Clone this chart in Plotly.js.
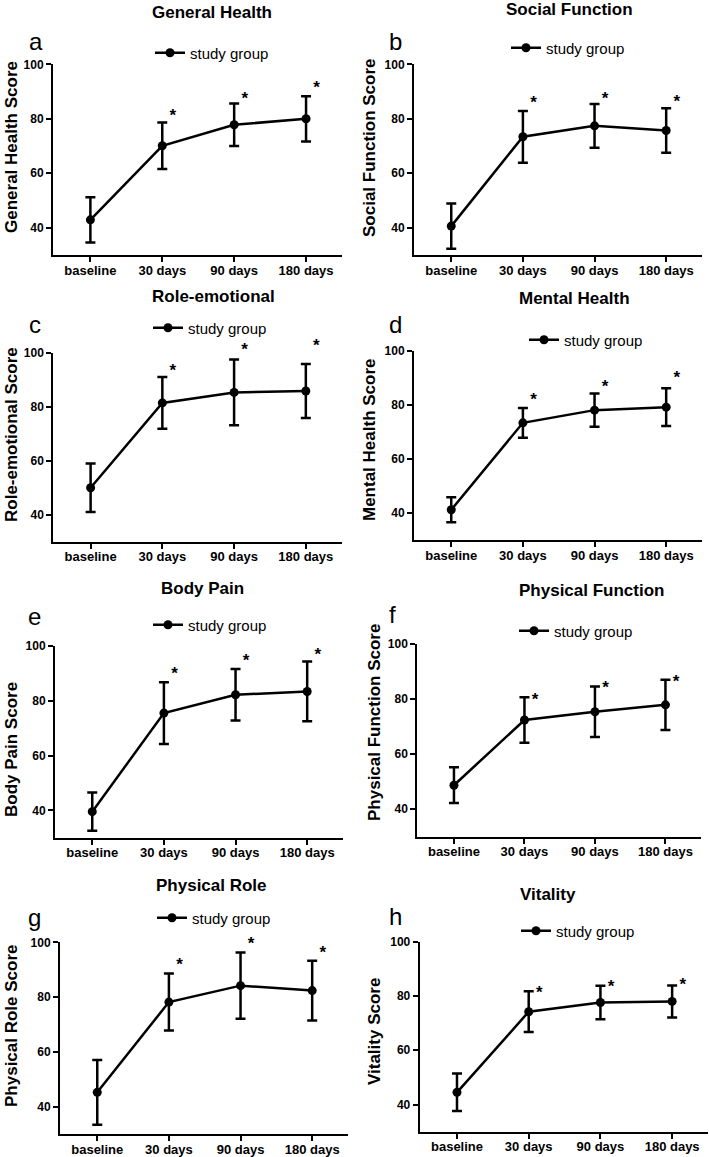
<!DOCTYPE html>
<html><head><meta charset="utf-8">
<script src="https://cdn.plot.ly/plotly-3.0.1.min.js"></script>
<style>html,body{margin:0;padding:0;background:#fff}</style>
</head><body>
<div id="chart" style="width:709px;height:1157px"></div>
<script>
// ---------------- data ----------------
const categories = ['baseline', '30 days', '90 days', '180 days'];
const seriesName = 'study group';
const panelLetters = ['a', 'b', 'c', 'd', 'e', 'f', 'g', 'h'];
const panelTitles = ['General Health', 'Social Function', 'Role-emotional', 'Mental Health',
                     'Body Pain', 'Physical Function', 'Physical Role', 'Vitality'];
const yAxisTitles = ['General Health Score', 'Social Function Score', 'Role-emotional Score',
                     'Mental Health Score', 'Body Pain Score', 'Physical Function Score',
                     'Physical Role Score', 'Vitality Score'];
const yTickValues = [40, 60, 80, 100];
const starText = '*';

const generalHealthMean    = [42.9, 70.1, 77.8, 80.0];
const generalHealthSD      = [8.3, 8.5, 7.8, 8.3];
const socialFunctionMean   = [40.6, 73.4, 77.4, 75.7];
const socialFunctionSD     = [8.3, 9.5, 8.0, 8.2];
const roleEmotionalMean    = [50.0, 81.4, 85.3, 85.8];
const roleEmotionalSD      = [9.0, 9.6, 12.2, 10.0];
const mentalHealthMean     = [41.2, 73.4, 78.1, 79.2];
const mentalHealthSD       = [4.6, 5.5, 6.2, 7.0];
const bodyPainMean         = [39.5, 75.5, 82.2, 83.4];
const bodyPainSD           = [7.0, 11.3, 9.4, 10.9];
const physicalFunctionMean = [48.7, 72.4, 75.4, 77.9];
const physicalFunctionSD   = [6.5, 8.3, 9.2, 9.1];
const physicalRoleMean     = [45.3, 78.2, 84.2, 82.4];
const physicalRoleSD       = [11.8, 10.4, 12.1, 10.9];
const vitalityMean         = [44.5, 74.2, 77.6, 78.0];
const vitalitySD           = [6.9, 7.5, 6.2, 5.9];

// anchor height (score units) of the significance asterisks at 30, 90, 180 days
const generalHealthStar    = [80.8, 87.1, 91.1];
const socialFunctionStar   = [85.6, 86.9, 85.9];
const roleEmotionalStar    = [93.0, 100.9, 102.1];
const mentalHealthStar     = [81.6, 86.5, 89.6];
const bodyPainStar         = [89.4, 94.4, 96.6];
const physicalFunctionStar = [79.5, 83.8, 85.9];
const physicalRoleStar     = [91.3, 99.2, 95.7];
const vitalityStar         = [80.8, 83.1, 83.7];

const means = [generalHealthMean, socialFunctionMean, roleEmotionalMean, mentalHealthMean,
               bodyPainMean, physicalFunctionMean, physicalRoleMean, vitalityMean];
const sds = [generalHealthSD, socialFunctionSD, roleEmotionalSD, mentalHealthSD,
             bodyPainSD, physicalFunctionSD, physicalRoleSD, vitalitySD];
const stars = [generalHealthStar, socialFunctionStar, roleEmotionalStar, mentalHealthStar,
               bodyPainStar, physicalFunctionStar, physicalRoleStar, vitalityStar];

// ---------------- layout geometry (pixels) ----------------
const W = 709, H = 1157;
const FONT = 'Arial, "Liberation Sans", Helvetica, sans-serif';
const Y_MIN = 30, Y_MAX = 100;
const STAR_HEADROOM = 24; // px of extra room above the axis for asterisks
// [left, right, top(=Y_MAX), bottom(=Y_MIN)]
const boxes = [
  [53, 342, 64.3, 255],
  [414, 702, 64.3, 255],
  [53.3, 341.7, 352.7, 541.7],
  [414, 702, 351, 540],
  [55, 343, 646, 837.7],
  [417.3, 700.7, 644, 836.7],
  [60, 348, 942.3, 1134.3],
  [419.7, 708, 941.7, 1131.7]
];
// legend: [text start x, centre y]
const legendPos = [[190, 53], [546, 48], [188, 328], [564, 340], [188, 625], [554, 631], [192, 918], [556, 931]];
// title: [centre x, centre y]
const titlePos = [[212, 12], [569, 10], [214, 297], [574, 299], [202, 588], [591, 590], [211, 885], [548, 894]];
// panel letter: [left x, baseline y]
const letterPos = [[27, 50], [387, 50], [27, 333], [387, 333], [26, 625], [387, 623], [26, 926], [387, 925]];
// y-axis title: [centre x, centre y]
const yTitlePos = [[11, 147], [369, 148], [11, 435], [369, 440], [11, 750], [374, 722], [11, 1026], [374, 1031]];

const px = v => v / W;
const py = v => 1 - v / H;

const traces = [];
const layout = {
  width: W, height: H,
  margin: {l: 0, r: 0, t: 0, b: 0},
  paper_bgcolor: '#fff', plot_bgcolor: 'rgba(0,0,0,0)',
  font: {family: FONT, color: '#000'},
  annotations: [],
  showlegend: true
};

for (let i = 0; i < 8; i++) {
  const sfx = i === 0 ? '' : String(i + 1);
  const starAx = String(i + 9);
  const legKey = 'legend' + sfx;
  const b = boxes[i];
  traces.push({
    type: 'scatter', mode: 'lines+markers',
    x: categories, y: means[i],
    name: seriesName,
    xaxis: 'x' + sfx, yaxis: 'y' + sfx,
    legend: legKey,
    line: {color: '#000', width: 2.5},
    marker: {color: '#000', size: 9},
    error_y: {type: 'data', array: sds[i], visible: true, color: '#000', thickness: 2.5, width: 5},
    cliponaxis: false,
    hoverinfo: 'x+y'
  });
  // asterisks on a hidden twin axis with the same scale but more headroom
  traces.push({
    type: 'scatter', mode: 'markers+text',
    x: categories.slice(1), y: stars[i],
    text: stars[i].map(() => starText),
    textposition: 'middle right',
    textfont: {family: FONT, size: 17, color: '#000', weight: 'bold'},
    marker: {size: 10, opacity: 0, color: '#000'},
    xaxis: 'x' + sfx, yaxis: 'y' + starAx,
    showlegend: false, cliponaxis: false, hoverinfo: 'skip'
  });
  layout['xaxis' + sfx] = {
    domain: [px(b[0]), px(b[1])], anchor: 'y' + sfx,
    type: 'category', range: [-0.52, 3.5],
    showline: true, linecolor: '#000', linewidth: 2,
    ticks: 'outside', ticklen: 5, tickwidth: 2, tickcolor: '#000',
    ticklabelstandoff: -3,
    tickfont: {family: FONT, size: 13, color: '#000', weight: 'bold'},
    showgrid: false, zeroline: false, fixedrange: true
  };
  layout['yaxis' + sfx] = {
    domain: [py(b[3]), py(b[2])], anchor: 'x' + sfx,
    range: [Y_MIN, Y_MAX], tickvals: yTickValues,
    showline: true, linecolor: '#000', linewidth: 2,
    ticks: 'outside', ticklen: 5, tickwidth: 2, tickcolor: '#000',
    tickfont: {family: FONT, size: 12, color: '#000', weight: 'bold'},
    showgrid: false, zeroline: false, fixedrange: true
  };
  const unitsPerPx = (Y_MAX - Y_MIN) / (b[3] - b[2]);
  layout['yaxis' + starAx] = {
    domain: [py(b[3]), py(b[2] - STAR_HEADROOM)], anchor: 'x' + sfx,
    range: [Y_MIN, Y_MAX + STAR_HEADROOM * unitsPerPx],
    visible: false, showgrid: false, zeroline: false, fixedrange: true
  };
  layout[legKey] = {
    x: px(legendPos[i][0] - 40), xanchor: 'left',
    y: py(legendPos[i][1]), yanchor: 'middle',
    bgcolor: 'rgba(0,0,0,0)', borderwidth: 0,
    font: {family: FONT, size: 15, color: '#000'}
  };
  layout.annotations.push({
    xref: 'paper', yref: 'paper', x: px(titlePos[i][0]), y: py(titlePos[i][1]),
    xanchor: 'center', yanchor: 'middle', showarrow: false,
    text: panelTitles[i], font: {family: FONT, size: 17, color: '#000', weight: 'bold'}
  });
  layout.annotations.push({
    xref: 'paper', yref: 'paper', x: px(yTitlePos[i][0]), y: py(yTitlePos[i][1]),
    xanchor: 'center', yanchor: 'middle', showarrow: false, textangle: -90,
    text: yAxisTitles[i], font: {family: FONT, size: 17, color: '#000', weight: 'bold'}
  });
  layout.annotations.push({
    xref: 'paper', yref: 'paper', x: px(letterPos[i][0]), y: py(letterPos[i][1] - 8.3),
    xanchor: 'left', yanchor: 'middle', showarrow: false,
    text: panelLetters[i], font: {family: FONT, size: 24, color: '#000'}
  });
}

Plotly.newPlot('chart', traces, layout, {displayModeBar: false, staticPlot: true});
</script>
</body></html>
